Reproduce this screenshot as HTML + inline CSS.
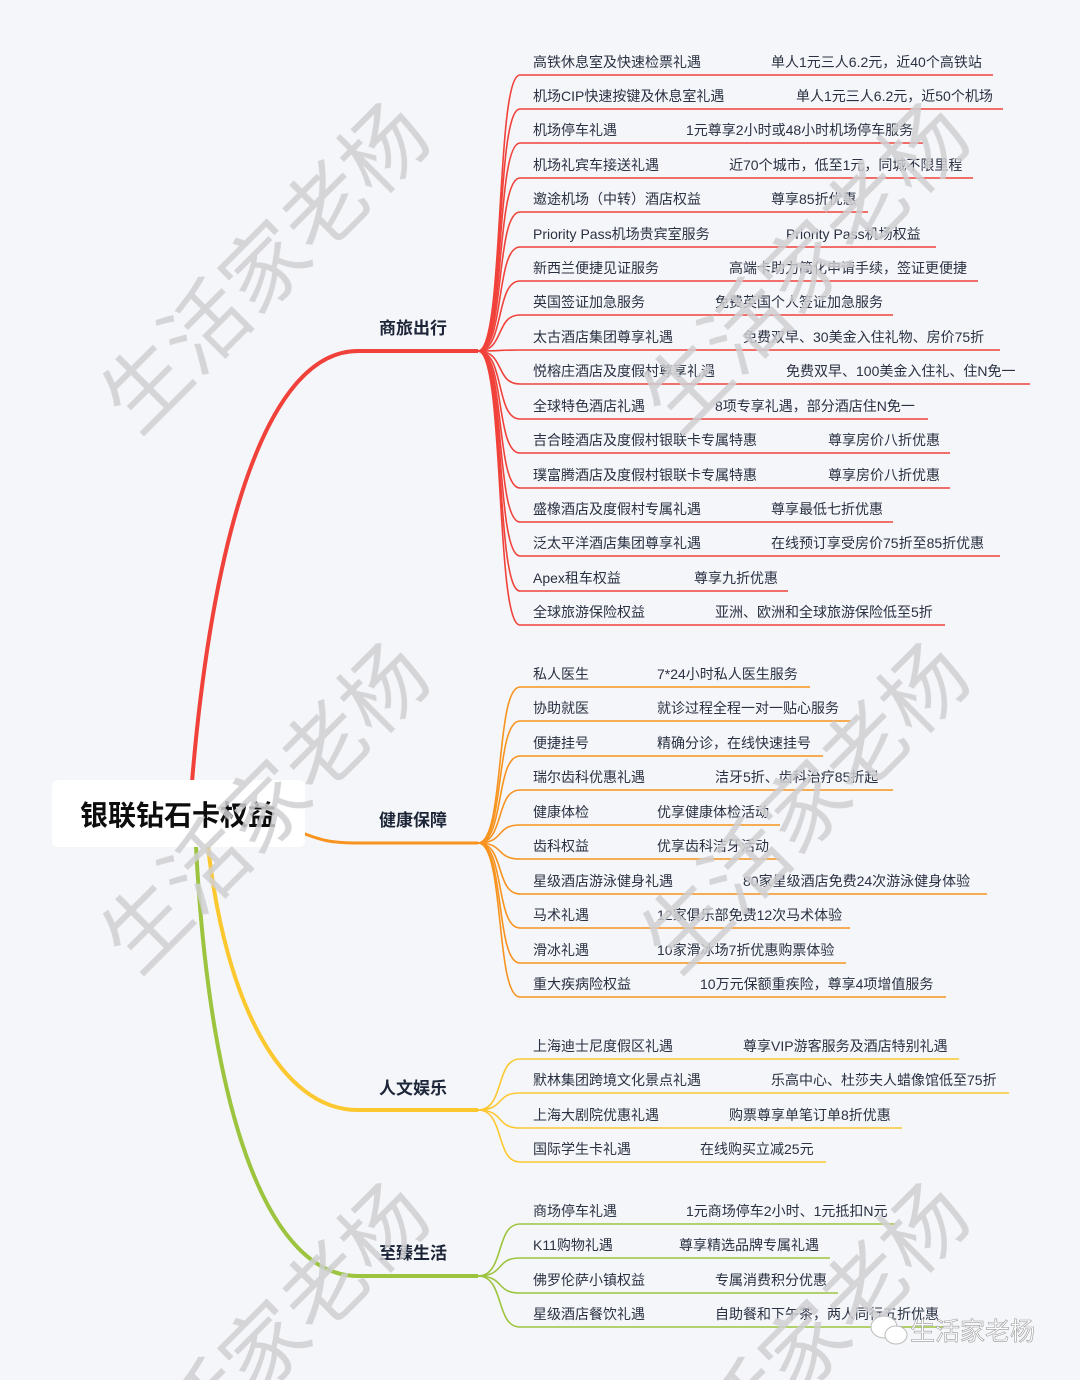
<!DOCTYPE html>
<html><head><meta charset="utf-8">
<style>
html,body{margin:0;padding:0;background:#f5f6f9;width:1080px;height:1380px;overflow:hidden;}
svg{display:block;overflow:hidden;}
.lf{font-family:"Liberation Sans","Noto Sans CJK SC",sans-serif;font-size:14px;fill:#2a3142;}
.br{font-family:"Liberation Sans","Noto Sans CJK SC",sans-serif;font-size:17px;font-weight:bold;fill:#1c2538;}
.wm{font-family:"Noto Sans CJK SC",sans-serif;font-size:84px;fill:#cfcfd2;opacity:.85;}
</style></head>
<body>
<svg width="1080" height="1380" viewBox="0 0 1080 1380" xmlns="http://www.w3.org/2000/svg">
<defs><clipPath id="c"><rect width="1080" height="1380"/></clipPath></defs>
<rect width="1080" height="1380" fill="#f5f6f9"/>

<path d="M192,782 C212,540 265,351 358,351 L478,351" fill="none" stroke="#f0423a" stroke-width="4"/>
<path d="M300,832 C320,840 330,843 358,843 L478,843" fill="none" stroke="#f7931e" stroke-width="3"/>
<path d="M208,846 C225,1000 280,1110 358,1110 L478,1110" fill="none" stroke="#fcc830" stroke-width="4"/>
<path d="M196,846 C210,1120 270,1276 358,1276 L478,1276" fill="none" stroke="#9cc43e" stroke-width="4"/>

<g fill="none" stroke="#f0423a" stroke-width="1.6">
<path d="M478,351 C505,351 495,75 520,75 L993,75"/>
<path d="M478,351 C505,351 495,109 520,109 L1003,109"/>
<path d="M478,351 C505,351 495,143 520,143 L923,143"/>
<path d="M478,351 C505,351 495,178 520,178 L973,178"/>
<path d="M478,351 C505,351 495,212 520,212 L868,212"/>
<path d="M478,351 C505,351 495,247 520,247 L936,247"/>
<path d="M478,351 C505,351 495,281 520,281 L978,281"/>
<path d="M478,351 C505,351 495,315 520,315 L893,315"/>
<path d="M478,351 C505,351 495,350 520,350 L1000,350"/>
<path d="M478,351 C505,351 495,384 520,384 L1030,384"/>
<path d="M478,351 C505,351 495,419 520,419 L928,419"/>
<path d="M478,351 C505,351 495,453 520,453 L950,453"/>
<path d="M478,351 C505,351 495,488 520,488 L950,488"/>
<path d="M478,351 C505,351 495,522 520,522 L893,522"/>
<path d="M478,351 C505,351 495,556 520,556 L1000,556"/>
<path d="M478,351 C505,351 495,591 520,591 L788,591"/>
<path d="M478,351 C505,351 495,625 520,625 L945,625"/>
</g>
<g fill="none" stroke="#f7931e" stroke-width="1.6">
<path d="M478,843 C505,843 495,687 520,687 L810,687"/>
<path d="M478,843 C505,843 495,721 520,721 L851,721"/>
<path d="M478,843 C505,843 495,756 520,756 L823,756"/>
<path d="M478,843 C505,843 495,790 520,790 L893,790"/>
<path d="M478,843 C505,843 495,825 520,825 L780,825"/>
<path d="M478,843 C505,843 495,859 520,859 L780,859"/>
<path d="M478,843 C505,843 495,894 520,894 L987,894"/>
<path d="M478,843 C505,843 495,928 520,928 L850,928"/>
<path d="M478,843 C505,843 495,963 520,963 L846,963"/>
<path d="M478,843 C505,843 495,997 520,997 L946,997"/>
</g>
<g fill="none" stroke="#fcc830" stroke-width="1.6">
<path d="M478,1110 C505,1110 495,1059 520,1059 L959,1059"/>
<path d="M478,1110 C505,1110 495,1093 520,1093 L1009,1093"/>
<path d="M478,1110 C505,1110 495,1128 520,1128 L902,1128"/>
<path d="M478,1110 C505,1110 495,1162 520,1162 L826,1162"/>
</g>
<g fill="none" stroke="#9cc43e" stroke-width="1.6">
<path d="M478,1276 C505,1276 495,1224 520,1224 L895,1224"/>
<path d="M478,1276 C505,1276 495,1258 520,1258 L830,1258"/>
<path d="M478,1276 C505,1276 495,1293 520,1293 L838,1293"/>
<path d="M478,1276 C505,1276 495,1327 520,1327 L950,1327"/>
</g>

<text class="br" x="379" y="334">商旅出行</text>
<text class="br" x="379" y="826">健康保障</text>
<text class="br" x="379" y="1094">人文娱乐</text>
<text class="br" x="379" y="1259">至臻生活</text>

<g class="lf">
<text x="533" y="67">高铁休息室及快速检票礼遇</text><text x="771" y="67">单人1元三人6.2元，近40个高铁站</text>
<text x="533" y="101">机场CIP快速按键及休息室礼遇</text><text x="796" y="101">单人1元三人6.2元，近50个机场</text>
<text x="533" y="135">机场停车礼遇</text><text x="686" y="135">1元尊享2小时或48小时机场停车服务</text>
<text x="533" y="170">机场礼宾车接送礼遇</text><text x="729" y="170">近70个城市，低至1元，同城不限里程</text>
<text x="533" y="204">邀途机场（中转）酒店权益</text><text x="771" y="204">尊享85折优惠</text>
<text x="533" y="239">Priority Pass机场贵宾室服务</text><text x="786" y="239">Priority Pass机场权益</text>
<text x="533" y="273">新西兰便捷见证服务</text><text x="729" y="273">高端卡助力简化申请手续，签证更便捷</text>
<text x="533" y="307">英国签证加急服务</text><text x="715" y="307">免费英国个人签证加急服务</text>
<text x="533" y="342">太古酒店集团尊享礼遇</text><text x="743" y="342">免费双早、30美金入住礼物、房价75折</text>
<text x="533" y="376">悦榕庄酒店及度假村尊享礼遇</text><text x="786" y="376">免费双早、100美金入住礼、住N免一</text>
<text x="533" y="411">全球特色酒店礼遇</text><text x="715" y="411">8项专享礼遇，部分酒店住N免一</text>
<text x="533" y="445">吉合睦酒店及度假村银联卡专属特惠</text><text x="828" y="445">尊享房价八折优惠</text>
<text x="533" y="480">璞富腾酒店及度假村银联卡专属特惠</text><text x="828" y="480">尊享房价八折优惠</text>
<text x="533" y="514">盛橡酒店及度假村专属礼遇</text><text x="771" y="514">尊享最低七折优惠</text>
<text x="533" y="548">泛太平洋酒店集团尊享礼遇</text><text x="771" y="548">在线预订享受房价75折至85折优惠</text>
<text x="533" y="583">Apex租车权益</text><text x="694" y="583">尊享九折优惠</text>
<text x="533" y="617">全球旅游保险权益</text><text x="715" y="617">亚洲、欧洲和全球旅游保险低至5折</text>

<text x="533" y="679">私人医生</text><text x="657" y="679">7*24小时私人医生服务</text>
<text x="533" y="713">协助就医</text><text x="657" y="713">就诊过程全程一对一贴心服务</text>
<text x="533" y="748">便捷挂号</text><text x="657" y="748">精确分诊，在线快速挂号</text>
<text x="533" y="782">瑞尔齿科优惠礼遇</text><text x="715" y="782">洁牙5折、齿科治疗85折起</text>
<text x="533" y="817">健康体检</text><text x="657" y="817">优享健康体检活动</text>
<text x="533" y="851">齿科权益</text><text x="657" y="851">优享齿科洁牙活动</text>
<text x="533" y="886">星级酒店游泳健身礼遇</text><text x="743" y="886">80家星级酒店免费24次游泳健身体验</text>
<text x="533" y="920">马术礼遇</text><text x="657" y="920">12家俱乐部免费12次马术体验</text>
<text x="533" y="955">滑冰礼遇</text><text x="657" y="955">10家滑冰场7折优惠购票体验</text>
<text x="533" y="989">重大疾病险权益</text><text x="700" y="989">10万元保额重疾险，尊享4项增值服务</text>

<text x="533" y="1051">上海迪士尼度假区礼遇</text><text x="743" y="1051">尊享VIP游客服务及酒店特别礼遇</text>
<text x="533" y="1085">默林集团跨境文化景点礼遇</text><text x="771" y="1085">乐高中心、杜莎夫人蜡像馆低至75折</text>
<text x="533" y="1120">上海大剧院优惠礼遇</text><text x="729" y="1120">购票尊享单笔订单8折优惠</text>
<text x="533" y="1154">国际学生卡礼遇</text><text x="700" y="1154">在线购买立减25元</text>

<text x="533" y="1216">商场停车礼遇</text><text x="686" y="1216">1元商场停车2小时、1元抵扣N元</text>
<text x="533" y="1250">K11购物礼遇</text><text x="679" y="1250">尊享精选品牌专属礼遇</text>
<text x="533" y="1285">佛罗伦萨小镇权益</text><text x="715" y="1285">专属消费积分优惠</text>
<text x="533" y="1319">星级酒店餐饮礼遇</text><text x="715" y="1319">自助餐和下午茶，两人同行五折优惠</text>
</g>

<rect x="52" y="780" width="253" height="67" rx="6" fill="#ffffff"/>
<text x="80" y="825" style="font-family:'Noto Sans CJK SC',sans-serif;font-size:28px;font-weight:bold;fill:#0d0d0d;">银联钻石卡权益</text>

<g clip-path="url(#c)">
<g class="wm">
<text transform="translate(270,272) rotate(-45)" text-anchor="middle" dominant-baseline="middle">生活家老杨</text>
<text transform="translate(270,812) rotate(-45)" text-anchor="middle" dominant-baseline="middle">生活家老杨</text>
<text transform="translate(810,272) rotate(-45)" text-anchor="middle" dominant-baseline="middle">生活家老杨</text>
<text transform="translate(810,812) rotate(-45)" text-anchor="middle" dominant-baseline="middle">生活家老杨</text>
<text transform="translate(270,1352) rotate(-45)" text-anchor="middle" dominant-baseline="middle">生活家老杨</text>
<text transform="translate(810,1352) rotate(-45)" text-anchor="middle" dominant-baseline="middle">生活家老杨</text>
</g>
</g>

<g>
<ellipse cx="884" cy="1327" rx="13" ry="11" fill="#fff" stroke="#bbb" stroke-width="1"/>
<ellipse cx="896" cy="1335" rx="11" ry="9" fill="#fff" stroke="#bbb" stroke-width="1"/>
<text x="910" y="1340" style="font-family:'Noto Sans CJK SC',sans-serif;font-size:25px;fill:#fff;stroke:#999;stroke-width:0.6;">生活家老杨</text>
</g>
</svg>
</body></html>
